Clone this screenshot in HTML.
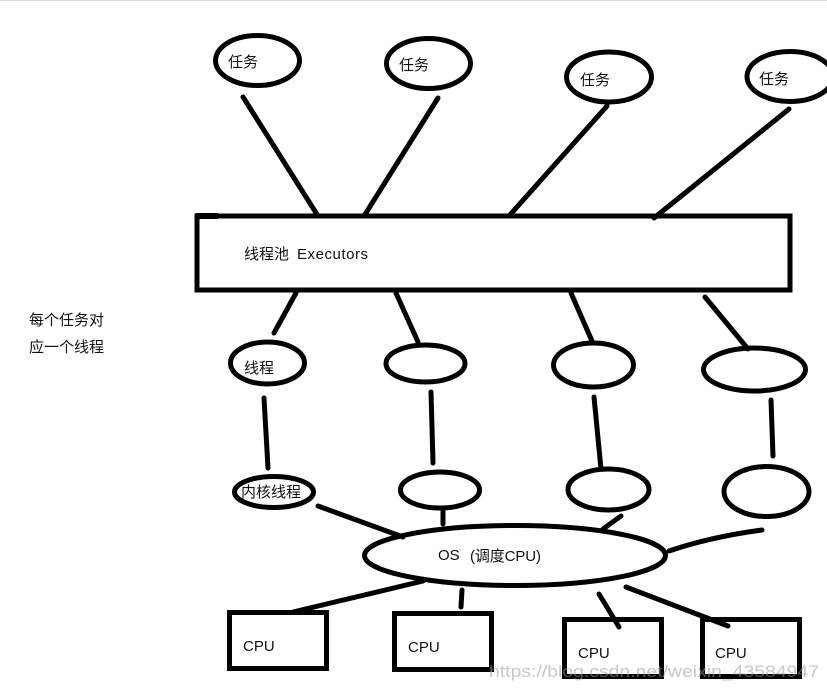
<!DOCTYPE html>
<html><head><meta charset="utf-8">
<style>
html,body{margin:0;padding:0;background:#fff}
svg{display:block}
text{font-family:"Liberation Sans","Noto Sans CJK SC",sans-serif;font-size:15px;fill:#111}
</style></head>
<body>
<svg width="827" height="689" viewBox="0 0 827 689" xmlns="http://www.w3.org/2000/svg">
<rect width="827" height="689" fill="#fff"/>
<rect width="827" height="1" fill="#ddd"/>
<g fill="none" stroke="#000" stroke-width="5">
<ellipse cx="257.500" cy="60.500" rx="42" ry="25"/>
<ellipse cx="428.500" cy="63.500" rx="42" ry="25"/>
<ellipse cx="609" cy="77" rx="42.500" ry="25"/>
<ellipse cx="790" cy="76.500" rx="43" ry="25"/>
<rect x="197" y="216" width="593" height="74"/>
<ellipse cx="267.500" cy="363" rx="37" ry="21"/>
<ellipse cx="425.500" cy="363.500" rx="39.500" ry="18.500"/>
<ellipse cx="593.500" cy="365" rx="40" ry="22"/>
<ellipse cx="754.500" cy="369.500" rx="51" ry="21.500"/>
<ellipse cx="274" cy="492" rx="39.500" ry="15.500"/>
<ellipse cx="440" cy="490" rx="39.500" ry="18"/>
<ellipse cx="608.500" cy="489.500" rx="40.500" ry="20.500"/>
<ellipse cx="766.500" cy="491.500" rx="42.500" ry="25"/>
<ellipse cx="515" cy="555.500" rx="150.500" ry="30"/>
<rect x="229.500" y="612.500" width="97" height="56"/>
<rect x="394.500" y="613.500" width="97" height="56"/>
<rect x="564.500" y="619.500" width="97" height="57"/>
<rect x="702.500" y="619.500" width="97" height="57"/>
</g>
<rect x="196" y="213" width="22" height="6" fill="#000"/>
<g fill="none" stroke="#000" stroke-width="5" stroke-linecap="round">
<path d="M243 97L318 216"/>
<path d="M438 98L364 216"/>
<path d="M607 106L509 216"/>
<path d="M789 109L654 218"/>
<path d="M296 293L274 333"/>
<path d="M396 293L418 342"/>
<path d="M571 293L592 341"/>
<path d="M705 297L748 349"/>
<path d="M264 398L268 468"/>
<path d="M431 392L433 463"/>
<path d="M594 397L601 469"/>
<path d="M771 400L773 456"/>
<path d="M318 506L403 537"/>
<path d="M443 510V524"/>
<path d="M621 516L603 529"/>
<path d="M669 551Q710 537 762 530"/>
<path d="M423 581L293 612"/>
<path d="M462 590L461 607"/>
<path d="M599 594L619 627"/>
<path d="M626 587L728 626"/>
</g>
<g>
<text x="228" y="67">任务</text>
<text x="399" y="70">任务</text>
<text x="580" y="85">任务</text>
<text x="759" y="84">任务</text>
<text x="244" y="259">线程池</text>
<text x="297" y="259" textLength="71">Executors</text>
<text x="29" y="325">每个任务对</text>
<text x="29" y="352">应一个线程</text>
<text x="244" y="373">线程</text>
<text x="241" y="497" textLength="60">内核线程</text>
<text x="438" y="560">OS</text>
<text x="470" y="561" textLength="71">(调度CPU)</text>
<text x="243" y="651">CPU</text>
<text x="408" y="652">CPU</text>
<text x="578" y="658">CPU</text>
<text x="715" y="658">CPU</text>
</g>
<text x="489" y="677" style="font-size:17px;fill:#999;fill-opacity:.55" textLength="330" lengthAdjust="spacingAndGlyphs">https://blog.csdn.net/weixin_43584947</text>
</svg>
</body></html>
